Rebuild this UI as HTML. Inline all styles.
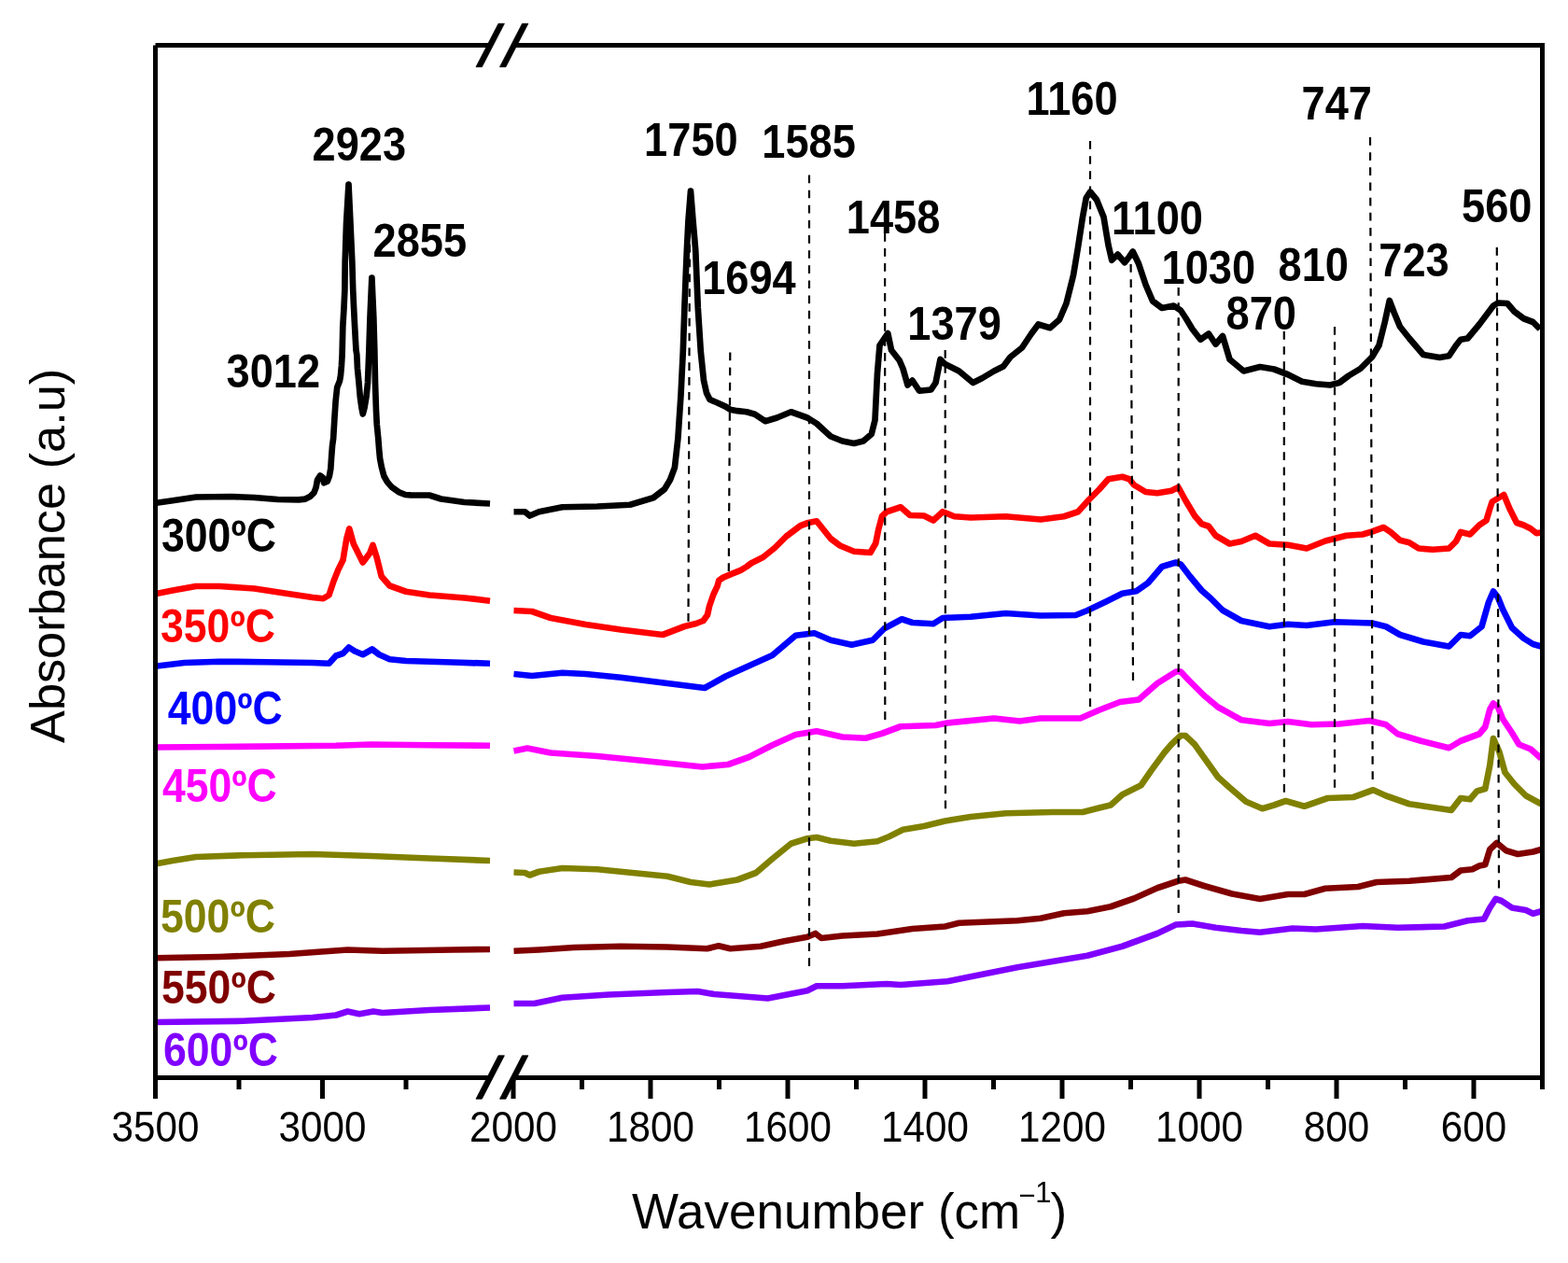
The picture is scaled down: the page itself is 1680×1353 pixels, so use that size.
<!DOCTYPE html>
<html><head><meta charset="utf-8"><style>
html,body{margin:0;padding:0;background:#fff;}
svg{display:block;}
text{font-family:"Liberation Sans",Arial,sans-serif;}
.tl{font-size:42.2px;fill:#000;}
.at{font-size:53px;fill:#000;}
.at2{font-size:52.3px;fill:#000;}
.pk{font-size:45.2px;font-weight:bold;fill:#000;}
.tp{font-size:44.6px;font-weight:bold;}
</style></head><body>
<svg width="1680" height="1353" viewBox="0 0 1680 1353">
<polyline points="166.25,1095.00 260.00,1093.75 335.00,1090.00 360.00,1087.50 372.50,1083.50 385.00,1086.25 400.00,1083.50 410.00,1085.00 460.00,1082.00 525.00,1079.50" fill="none" stroke="#8000ff" stroke-width="6.7" stroke-linejoin="round" stroke-linecap="butt"/>
<polyline points="550.50,1075.00 572.50,1075.00 602.50,1068.75 652.50,1065.50 715.00,1063.00 747.50,1062.00 765.00,1065.00 822.50,1069.50 865.00,1061.25 875.00,1056.25 902.50,1056.25 950.00,1054.00 965.00,1055.00 1015.00,1051.25 1040.00,1046.25 1090.00,1036.25 1165.00,1023.75 1202.50,1013.75 1240.00,1000.00 1260.00,990.50 1277.50,989.50 1302.50,993.75 1330.00,997.00 1350.00,998.75 1385.00,994.50 1410.00,995.50 1460.00,992.00 1497.50,993.75 1547.50,992.50 1572.50,986.25 1590.00,984.50 1596.25,972.50 1602.50,963.00 1608.75,965.00 1620.00,972.50 1635.00,975.00 1642.50,978.75 1651.25,976.25" fill="none" stroke="#8000ff" stroke-width="6.7" stroke-linejoin="round" stroke-linecap="butt"/>
<polyline points="166.25,1026.25 235.00,1025.00 310.00,1022.00 372.50,1017.50 410.00,1018.75 485.00,1017.50 525.00,1017.00" fill="none" stroke="#800000" stroke-width="6.7" stroke-linejoin="round" stroke-linecap="butt"/>
<polyline points="550.50,1018.75 577.50,1017.50 615.00,1015.00 665.00,1013.75 715.00,1014.50 757.50,1016.25 770.00,1013.25 782.50,1016.25 815.00,1013.75 840.00,1008.25 865.00,1003.75 873.75,1000.00 880.00,1005.00 902.50,1002.50 940.00,1000.50 977.50,995.00 1012.50,992.50 1027.50,988.75 1090.00,986.25 1115.00,983.75 1140.00,978.25 1165.00,976.25 1190.00,971.25 1215.00,962.50 1240.00,951.25 1262.50,943.75 1270.00,942.50 1290.00,949.00 1320.00,957.50 1350.00,963.00 1380.00,958.00 1397.50,958.00 1420.00,951.75 1455.00,950.00 1475.00,945.00 1510.00,943.75 1555.00,940.00 1565.00,932.50 1577.50,931.25 1585.00,927.50 1591.25,926.25 1596.25,910.00 1603.75,903.00 1613.75,911.25 1626.25,915.00 1642.50,912.50 1651.25,910.00" fill="none" stroke="#800000" stroke-width="6.7" stroke-linejoin="round" stroke-linecap="butt"/>
<polyline points="166.25,925.50 185.00,922.00 210.00,918.00 260.00,916.25 335.00,915.00 397.50,917.00 460.00,919.50 525.00,922.00" fill="none" stroke="#808000" stroke-width="6.7" stroke-linejoin="round" stroke-linecap="butt"/>
<polyline points="550.50,934.50 562.50,935.00 567.50,937.50 577.50,933.75 602.50,930.00 640.00,931.25 677.50,935.00 715.00,938.75 740.00,945.00 760.00,947.50 790.00,942.50 810.00,935.00 827.50,920.00 847.50,903.75 865.00,898.25 875.00,897.00 890.00,900.75 915.00,903.75 940.00,901.25 952.50,896.25 967.50,888.75 990.00,885.00 1012.50,879.50 1040.00,875.00 1077.50,871.25 1127.50,870.00 1160.00,870.00 1177.50,865.50 1190.00,862.50 1202.50,851.25 1222.50,841.25 1233.75,825.00 1247.50,806.25 1255.00,797.50 1265.00,788.00 1270.00,788.00 1280.00,797.50 1292.50,815.00 1305.00,832.50 1317.50,843.75 1335.00,858.75 1352.50,866.25 1365.00,862.50 1377.50,858.00 1397.50,863.75 1422.50,855.00 1450.00,854.00 1471.25,846.25 1485.00,852.50 1510.00,861.25 1535.00,865.00 1555.00,868.00 1565.00,855.00 1575.00,856.25 1582.50,847.50 1591.25,845.00 1596.25,820.00 1600.00,791.00 1606.25,805.00 1612.50,827.50 1622.50,840.00 1635.00,852.50 1651.25,861.25" fill="none" stroke="#808000" stroke-width="6.7" stroke-linejoin="round" stroke-linecap="butt"/>
<polyline points="166.25,800.50 235.00,800.00 360.00,798.75 397.50,797.50 460.00,798.25 525.00,798.75" fill="none" stroke="#ff00ff" stroke-width="6.7" stroke-linejoin="round" stroke-linecap="butt"/>
<polyline points="550.50,804.50 565.00,801.50 590.00,806.50 640.00,810.00 690.00,815.00 752.50,821.50 780.00,819.00 802.50,811.00 827.50,798.25 852.50,787.00 875.00,783.25 902.50,789.50 927.50,790.75 945.00,785.75 965.00,778.25 1002.50,777.00 1015.00,774.50 1065.00,769.50 1092.50,772.50 1115.00,769.50 1157.50,769.50 1177.50,760.75 1200.00,752.00 1220.00,749.50 1240.00,732.00 1260.00,719.50 1265.00,719.50 1275.00,730.00 1290.00,745.00 1305.00,757.50 1330.00,771.25 1360.00,775.00 1380.00,773.00 1405.00,776.25 1435.00,775.50 1467.50,772.00 1485.00,776.25 1497.50,786.25 1522.50,793.75 1552.50,801.25 1565.00,793.75 1585.00,786.25 1591.25,778.75 1596.25,760.00 1600.00,753.50 1605.00,757.50 1610.00,770.00 1620.00,785.00 1627.50,797.50 1640.00,802.50 1651.25,812.50" fill="none" stroke="#ff00ff" stroke-width="6.7" stroke-linejoin="round" stroke-linecap="butt"/>
<polyline points="166.25,713.75 197.50,710.00 235.00,708.75 285.00,709.25 335.00,710.00 352.50,710.75 360.00,702.50 367.50,700.00 373.75,693.50 380.00,697.50 388.75,701.25 398.75,695.50 406.25,701.25 417.50,706.25 435.00,708.00 485.00,709.50 525.00,710.75" fill="none" stroke="#0000ff" stroke-width="6.7" stroke-linejoin="round" stroke-linecap="butt"/>
<polyline points="550.50,722.00 570.00,724.00 602.50,720.75 627.50,722.00 665.00,725.75 715.00,732.00 755.00,737.00 777.50,724.50 802.50,713.25 827.50,702.00 852.50,680.75 872.50,678.25 890.00,685.75 912.50,690.75 935.00,685.75 947.50,673.25 966.25,663.25 977.50,667.00 1000.00,668.25 1010.00,662.00 1040.00,660.75 1077.50,657.00 1115.00,659.50 1152.50,659.00 1165.00,654.00 1185.00,644.50 1202.50,635.75 1217.50,633.25 1230.00,624.50 1245.00,607.00 1260.00,602.50 1265.00,604.50 1275.00,617.50 1287.50,632.50 1297.50,641.25 1310.00,653.75 1330.00,665.00 1360.00,671.25 1380.00,668.75 1400.00,670.00 1430.00,666.25 1470.00,667.50 1485.00,671.25 1500.00,680.00 1525.00,687.50 1552.50,692.50 1565.00,680.00 1575.00,681.25 1587.50,671.25 1595.00,645.00 1600.00,633.50 1605.00,640.00 1610.00,652.50 1620.00,672.50 1632.50,683.75 1642.50,690.00 1651.25,692.50" fill="none" stroke="#0000ff" stroke-width="6.7" stroke-linejoin="round" stroke-linecap="butt"/>
<polyline points="166.25,636.25 185.00,632.50 210.00,628.00 235.00,628.00 272.50,630.50 310.00,636.25 335.00,640.00 346.25,641.25 352.50,637.50 357.50,622.50 362.50,610.00 367.50,600.00 371.25,577.50 374.25,566.50 378.75,582.50 388.75,602.50 396.25,592.50 399.50,584.00 403.75,597.50 408.75,617.50 417.50,627.50 435.00,633.75 460.00,637.50 497.50,640.50 525.00,643.75" fill="none" stroke="#ff0000" stroke-width="6.7" stroke-linejoin="round" stroke-linecap="butt"/>
<polyline points="550.50,654.00 570.00,655.00 590.00,662.00 627.50,669.00 665.00,674.50 710.00,680.00 733.50,671.00 745.80,668.00 753.50,665.00 758.00,658.80 760.00,649.50 764.30,637.00 768.60,627.90 770.30,621.70 774.90,618.60 784.40,614.70 793.70,610.80 800.00,607.00 805.00,603.25 817.50,597.00 830.00,587.00 842.50,574.50 857.50,563.25 866.00,560.00 875.00,558.25 890.00,577.00 900.00,584.50 915.00,590.75 932.50,592.00 938.25,582.00 941.25,567.00 945.00,553.00 950.00,548.25 965.00,543.25 975.00,552.00 990.00,552.50 1000.00,557.50 1010.00,548.25 1022.50,553.25 1040.00,554.50 1077.50,553.25 1115.00,556.50 1140.00,553.25 1155.00,548.25 1167.50,534.50 1177.50,524.50 1187.50,513.25 1202.50,510.75 1210.00,513.25 1215.00,519.50 1227.50,527.00 1240.00,528.25 1255.00,525.75 1262.50,522.00 1270.00,535.75 1280.00,552.50 1287.50,561.25 1295.00,563.75 1302.50,573.75 1317.50,582.50 1330.00,580.00 1345.00,573.75 1360.00,582.50 1380.00,583.75 1400.00,587.50 1420.00,579.50 1442.50,573.75 1460.00,572.50 1470.00,569.50 1482.50,565.00 1490.00,570.00 1500.00,578.75 1510.00,581.25 1520.00,587.50 1535.00,588.75 1552.50,587.50 1560.00,580.00 1565.00,570.00 1575.00,572.50 1585.00,562.50 1592.50,557.50 1596.25,545.00 1598.75,537.50 1611.25,530.00 1617.50,545.00 1625.00,560.00 1632.50,562.50 1640.00,566.25 1646.25,571.25 1651.25,570.50" fill="none" stroke="#ff0000" stroke-width="6.7" stroke-linejoin="round" stroke-linecap="butt"/>
<polyline points="167.50,538.75 185.00,536.25 210.00,532.50 247.50,532.00 272.50,533.00 297.50,535.00 320.00,535.40 327.10,534.60 332.10,532.10 336.40,527.90 338.60,522.10 340.00,514.30 343.00,509.50 345.70,511.40 347.10,517.30 350.70,515.70 352.90,510.00 354.30,502.10 355.00,491.40 356.10,477.10 357.10,470.00 358.30,450.00 359.60,430.00 361.20,415.00 364.00,408.00 365.00,402.00 365.90,392.00 366.60,380.00 367.30,350.00 368.50,330.00 369.40,310.00 369.70,280.00 371.00,240.00 373.50,197.50 375.50,240.00 377.30,280.00 378.20,310.00 379.10,330.00 380.10,350.00 381.50,375.00 382.30,380.00 383.00,395.00 384.50,410.00 385.80,425.00 387.50,437.00 388.80,443.50 390.50,437.00 392.50,425.00 394.00,410.00 395.40,375.00 396.50,340.00 398.40,297.50 400.30,340.00 401.30,375.00 402.00,410.00 403.00,440.00 403.80,455.00 405.30,470.00 406.10,480.70 407.10,491.40 408.90,500.70 411.40,510.00 415.00,516.40 420.00,522.10 427.10,527.10 434.30,530.00 440.00,530.40 447.50,530.50 460.00,530.50 472.50,534.50 497.50,538.00 525.00,539.50" fill="none" stroke="#000000" stroke-width="6.7" stroke-linejoin="round" stroke-linecap="butt"/>
<polyline points="550.50,548.25 562.50,548.25 567.50,552.50 577.50,548.25 602.50,543.25 640.00,542.50 675.00,540.75 700.00,533.25 712.00,524.00 718.00,514.00 722.90,500.80 726.40,469.70 729.50,423.00 731.80,376.60 733.40,330.00 734.60,298.50 735.90,267.50 737.50,236.00 740.00,204.50 742.50,236.00 745.20,267.50 746.50,298.50 747.80,330.00 750.80,376.60 754.00,407.60 757.00,421.00 760.50,428.00 767.50,431.00 777.60,435.60 782.30,438.70 790.00,440.20 800.00,441.25 808.75,443.75 820.00,451.25 832.50,447.50 847.50,441.25 865.00,447.50 875.00,453.75 890.00,467.50 902.50,472.50 915.00,475.00 925.00,472.50 933.75,465.00 937.50,450.00 940.00,400.00 942.50,370.00 951.25,357.00 955.00,375.00 963.75,386.25 967.50,395.00 972.50,412.50 977.50,407.50 985.00,418.75 997.50,417.50 1002.50,410.00 1007.50,385.00 1012.50,390.00 1027.50,397.50 1042.50,410.00 1052.50,405.00 1065.00,397.50 1075.00,392.50 1082.50,382.50 1095.00,372.50 1105.00,357.50 1112.50,347.50 1125.00,351.25 1135.00,342.50 1142.50,325.00 1150.00,295.00 1155.00,265.00 1160.00,232.50 1163.75,212.00 1168.00,205.50 1175.00,214.00 1182.50,232.50 1187.50,262.50 1191.25,278.75 1197.50,272.50 1205.00,281.25 1210.00,275.00 1213.75,269.50 1220.00,282.50 1227.50,305.00 1235.00,322.50 1245.00,330.00 1257.50,327.50 1265.00,332.50 1270.00,340.00 1277.50,352.50 1286.25,363.75 1295.00,357.50 1302.50,368.75 1310.00,360.00 1313.75,372.50 1317.50,385.00 1332.50,397.50 1350.00,393.00 1365.00,395.50 1380.00,401.25 1395.00,408.75 1410.00,411.25 1425.00,412.50 1435.00,410.00 1445.00,402.50 1457.50,395.00 1470.00,382.50 1477.50,370.00 1483.75,345.00 1488.75,322.00 1493.75,335.00 1500.00,350.00 1510.00,362.50 1525.00,380.00 1542.50,383.00 1552.50,381.25 1560.00,370.00 1565.00,363.75 1572.50,362.50 1585.00,347.50 1600.00,327.50 1605.00,324.50 1615.00,325.00 1622.50,333.75 1632.50,341.25 1642.50,345.00 1650.00,352.50" fill="none" stroke="#000000" stroke-width="6.7" stroke-linejoin="round" stroke-linecap="butt"/>
<line x1="739" y1="246" x2="737.5" y2="665.75" stroke="#000" stroke-width="2.2" stroke-dasharray="8.7 7.110"/>
<line x1="782.3" y1="377.5" x2="780.8" y2="612" stroke="#000" stroke-width="2.2" stroke-dasharray="8.7 7.429"/>
<line x1="867" y1="187.5" x2="867" y2="1035" stroke="#000" stroke-width="2.2" stroke-dasharray="8.7 7.431"/>
<line x1="948.1" y1="250" x2="948.3" y2="771" stroke="#000" stroke-width="2.2" stroke-dasharray="8.7 7.309"/>
<line x1="1012.7" y1="375" x2="1013" y2="866.25" stroke="#000" stroke-width="2.2" stroke-dasharray="8.7 7.385"/>
<line x1="1168" y1="151" x2="1168" y2="757" stroke="#000" stroke-width="2.2" stroke-dasharray="8.7 7.443"/>
<line x1="1211.6" y1="283" x2="1214" y2="729" stroke="#000" stroke-width="2.2" stroke-dasharray="8.7 7.496"/>
<line x1="1262.7" y1="308" x2="1262.7" y2="978" stroke="#000" stroke-width="2.2" stroke-dasharray="8.7 7.429"/>
<line x1="1375.8" y1="355" x2="1375.9" y2="848.75" stroke="#000" stroke-width="2.2" stroke-dasharray="8.7 7.468"/>
<line x1="1430" y1="350" x2="1430" y2="843.75" stroke="#000" stroke-width="2.2" stroke-dasharray="8.7 7.468"/>
<line x1="1468" y1="147" x2="1470.7" y2="835" stroke="#000" stroke-width="2.2" stroke-dasharray="8.7 7.474"/>
<line x1="1603.8" y1="265" x2="1606" y2="951.5" stroke="#000" stroke-width="2.2" stroke-dasharray="8.7 7.438"/>
<path d="M166.5 48.5 H523 M553 48.5 H1652.5 V1154.5 H553 M523 1154.5 H166.5 V48.5" fill="none" stroke="#000" stroke-width="5" stroke-linejoin="miter"/>
<polygon points="510,71.7 516.4,71.7 540.4,25.3 534,25.3" fill="#000" stroke="#000" stroke-width="0.8" stroke-linejoin="round"/>
<polygon points="535.5,71.7 541.9,71.7 565.9,25.3 559.5,25.3" fill="#000" stroke="#000" stroke-width="0.8" stroke-linejoin="round"/>
<polygon points="510,1177.2 516.4,1177.2 540.4,1130.8 534,1130.8" fill="#000" stroke="#000" stroke-width="0.8" stroke-linejoin="round"/>
<polygon points="535.5,1177.2 541.9,1177.2 565.9,1130.8 559.5,1130.8" fill="#000" stroke="#000" stroke-width="0.8" stroke-linejoin="round"/>
<path d="M166.5 1157 V1177 M345.5 1157 V1177 M256.0 1157 V1167 M435.0 1157 V1167 M550.0 1157 V1177 M697.0 1157 V1177 M844.0 1157 V1177 M991.0 1157 V1177 M1138.0 1157 V1177 M1285.0 1157 V1177 M1432.0 1157 V1177 M1579.0 1157 V1177 M623.5 1157 V1167 M770.5 1157 V1167 M917.5 1157 V1167 M1064.5 1157 V1167 M1211.5 1157 V1167 M1358.5 1157 V1167 M1505.5 1157 V1167 M1652.5 1157 V1167" stroke="#000" stroke-width="5" fill="none"/>
<text transform="translate(166.50 1222.50) scale(1 1.075)" class="tl" text-anchor="middle">3500</text>
<text transform="translate(345.50 1222.50) scale(1 1.075)" class="tl" text-anchor="middle">3000</text>
<text transform="translate(550.00 1222.50) scale(1 1.075)" class="tl" text-anchor="middle">2000</text>
<text transform="translate(697.00 1222.50) scale(1 1.075)" class="tl" text-anchor="middle">1800</text>
<text transform="translate(844.00 1222.50) scale(1 1.075)" class="tl" text-anchor="middle">1600</text>
<text transform="translate(991.00 1222.50) scale(1 1.075)" class="tl" text-anchor="middle">1400</text>
<text transform="translate(1138.00 1222.50) scale(1 1.075)" class="tl" text-anchor="middle">1200</text>
<text transform="translate(1285.00 1222.50) scale(1 1.075)" class="tl" text-anchor="middle">1000</text>
<text transform="translate(1432.00 1222.50) scale(1 1.075)" class="tl" text-anchor="middle">800</text>
<text transform="translate(1579.00 1222.50) scale(1 1.075)" class="tl" text-anchor="middle">600</text>
<text x="677" y="1315.7" class="at">Wavenumber (cm<tspan dx="-2" dy="-25.2" font-size="31">&#8722;</tspan><tspan dy="-2.5" font-size="31">1</tspan><tspan dx="-1" dy="27.7">)</tspan></text>
<text transform="translate(68.6 796) rotate(-90)" class="at2">Absorbance (a.u)</text>
<text transform="translate(334.50 172.00) scale(1 1.11)" class="pk">2923</text>
<text transform="translate(399.50 274.70) scale(1 1.11)" class="pk">2855</text>
<text transform="translate(242.50 414.60) scale(1 1.11)" class="pk">3012</text>
<text transform="translate(690.10 166.90) scale(1 1.11)" class="pk">1750</text>
<text transform="translate(816.30 169.30) scale(1 1.11)" class="pk">1585</text>
<text transform="translate(752.20 314.80) scale(1 1.11)" class="pk">1694</text>
<text transform="translate(906.80 250.00) scale(1 1.11)" class="pk">1458</text>
<text transform="translate(972.30 364.00) scale(1 1.11)" class="pk">1379</text>
<text transform="translate(1099.50 123.30) scale(1 1.11)" class="pk">1160</text>
<text transform="translate(1190.90 250.70) scale(1 1.11)" class="pk">1100</text>
<text transform="translate(1244.50 303.75) scale(1 1.11)" class="pk">1030</text>
<text transform="translate(1313.50 353.00) scale(1 1.11)" class="pk">870</text>
<text transform="translate(1369.50 301.00) scale(1 1.11)" class="pk">810</text>
<text transform="translate(1394.50 128.00) scale(1 1.11)" class="pk">747</text>
<text transform="translate(1477.25 295.50) scale(1 1.11)" class="pk">723</text>
<text transform="translate(1566.00 237.50) scale(1 1.11)" class="pk">560</text>
<text transform="translate(173.00 590.60) scale(1.0 1.1)" class="tp" fill="#000000">300&#186;C</text>
<text transform="translate(172.00 687.60) scale(1.0 1.1)" class="tp" fill="#ff0000">350&#186;C</text>
<text transform="translate(179.80 775.70) scale(1.0 1.1)" class="tp" fill="#0000ff">400&#186;C</text>
<text transform="translate(173.90 858.70) scale(1.0 1.1)" class="tp" fill="#ff00ff">450&#186;C</text>
<text transform="translate(172.00 998.80) scale(1.0 1.1)" class="tp" fill="#808000">500&#186;C</text>
<text transform="translate(173.00 1074.90) scale(1.0 1.1)" class="tp" fill="#800000">550&#186;C</text>
<text transform="translate(175.00 1141.70) scale(1.0 1.1)" class="tp" fill="#8000ff">600&#186;C</text>
</svg>
</body></html>
